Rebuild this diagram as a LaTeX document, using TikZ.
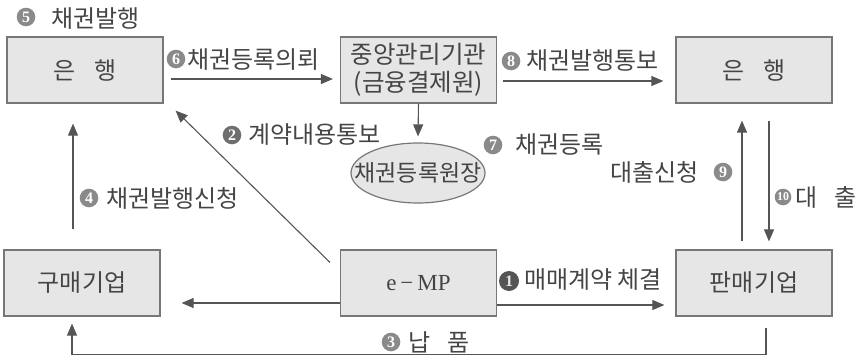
\documentclass[tikz,border=0pt]{standalone}
\usepackage{fontspec}
\setmainfont{Noto Sans CJK KR}
\newfontfamily\latinserif{Liberation Serif}
\usetikzlibrary{arrows.meta,calc,shapes.geometric}
\definecolor{boxfill}{HTML}{E6E6E6}
\definecolor{boxline}{HTML}{777777}
\definecolor{txt}{HTML}{454545}
\definecolor{lnc}{HTML}{555555}
\definecolor{numg}{HTML}{8A8A8A}
\tikzset{
  box/.style={draw=boxline,line width=1.2pt,fill=boxfill,minimum width=156pt,minimum height=66pt,inner sep=0pt,text=txt,font=\fontsize{24}{28}\selectfont},
  ell/.style={ellipse,draw=boxline,line width=1.2pt,fill=boxfill,minimum width=134pt,minimum height=60pt,inner sep=0pt},
  lbl/.style={text=txt,inner sep=0pt,anchor=west,font=\fontsize{24}{28}\selectfont},
  numt/.style={text=white,inner sep=0pt,font=\latinserif\bfseries\fontsize{16}{16}\selectfont},
  arr/.style={draw=lnc,line width=1.1pt,-{Triangle[length=12pt,width=10pt]}},
}
\newcommand{\cnum}[4]{\fill[#4] (#2) circle[radius=9.3pt]; \node[numt] (#1) at (#2) {#3};}
\begin{document}
\begin{tikzpicture}[x=1pt,y=-1pt]
\useasboundingbox (0,0) rectangle (861,356);
% boxes
\node[box] (bankL) at (85,70) {은\hspace{0.8em}행};
\node[box,align=center,font=\fontsize{24.5}{28}\selectfont] (central) at (418.5,70) {중앙관리기관\\(금융결제원)};
\node[box] (bankR) at (754,70) {은\hspace{0.8em}행};
\node[box] (buyer) at (82,283) {구매기업};
\node[box,font=\latinserif\fontsize{23}{26}\selectfont] (emp) at (418.5,283) {e\,−\,MP};
\node[box] (seller) at (754,283) {판매기업};
\node[ell] (ledger) at (418,173) {};
\node[text=txt,inner sep=0pt,font=\fontsize{23}{26}\selectfont] (ledgert) at (ledger.center) {채권등록원장};
% arrows
\draw[arr] ($(bankL.east)+(7,9)$) -- ($(central.west)+(-7,9)$);
\draw[arr] ($(central.east)+(6,11)$) -- ($(bankR.west)+(-12,11)$);
\draw[arr] (central.south) -- ($(ledger.north)+(0,-6)$);
\draw[arr] ($(emp.north west)+(-10,13)$) -- ($(bankL.south east)+(12,7)$);
\draw[arr] ($(buyer.north)+(-9,-20)$) -- ($(bankL.south)+(-12,20)$);
\draw[arr] ($(emp.west)+(0,20)$) -- ($(buyer.east)+(21,20)$);
\draw[arr] ($(emp.east)+(0,22)$) -- ($(seller.west)+(-11,22)$);
\draw[arr] ($(seller.north)+(-12,-8)$) -- ($(bankR.south)+(-12,17)$);
\draw[arr] ($(bankR.south)+(15,17)$) -- ($(seller.north)+(15,-8)$);
\draw[arr] ($(seller.south)+(12,11)$) -- ++(0,27) -| ($(buyer.south)+(-10,7)$);
% labels
\cnum{n5}{26,17}{5}{numg}
\node[lbl] (t5) at (51,19) {채권발행};
\cnum{n6}{176,59}{6}{numg}
\node[lbl] (t6) at (187,60) {채권등록의뢰};
\cnum{n8}{511,61}{8}{numg}
\node[lbl] (t8) at (526,61) {채권발행통보};
\cnum{n2}{232,135}{2}{lnc!85}
\node[lbl] (t2) at (248,135) {계약내용통보};
\cnum{n7}{493,145}{7}{numg}
\node[lbl] (t7) at (515,145) {채권등록};
\node[lbl,anchor=east] (t9) at (699,172) {대출신청};
\cnum{n9}{723,172}{9}{numg}
\cnum{n4}{89,198}{4}{numg}
\node[lbl] (t4) at (106,198) {채권발행신청};
\fill[numg] (783,197) circle[radius=8.3pt];
\node[numt,font=\latinserif\bfseries\fontsize{12}{12}\selectfont] (n10) at (783,197) {10};
\node[lbl] (t10) at (795,197) {대\hspace{0.7em}출};
\fill[lnc] (509,281) circle[radius=10pt];
\node[numt,text=boxfill] (n1) at (509,281) {1};
\node[lbl] (t1) at (524,280) {매매계약\hspace{0.2em}체결};
\cnum{n3}{391,342}{3}{numg}
\node[lbl] (t3) at (408,342) {납\hspace{0.7em}품};
\end{tikzpicture}
\end{document}
